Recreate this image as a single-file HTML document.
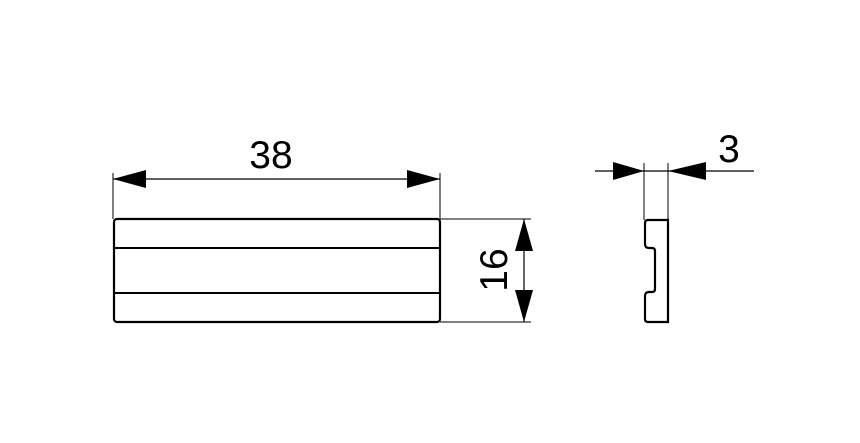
<!DOCTYPE html>
<html><head><style>body{margin:0;background:#fff}svg{display:block}</style></head><body>
<svg width="860" height="443" viewBox="0 0 860 443" xmlns="http://www.w3.org/2000/svg">
<g fill="none" stroke="#000">
<rect x="114" y="219" width="326" height="103" rx="3" stroke-width="2.2"/>
<line x1="114" y1="248" x2="440" y2="248" stroke-width="2"/>
<line x1="114" y1="293" x2="440" y2="293" stroke-width="2"/>
<line x1="113" y1="173" x2="113" y2="219" stroke-width="1"/>
<line x1="440" y1="173" x2="440" y2="219" stroke-width="1"/>
<line x1="113" y1="179" x2="440" y2="179" stroke-width="1.2"/>
<line x1="440" y1="219" x2="531" y2="219" stroke-width="1"/>
<line x1="440" y1="322" x2="531" y2="322" stroke-width="1"/>
<line x1="524" y1="219" x2="524" y2="322" stroke-width="1.2"/>
<line x1="644" y1="163" x2="644" y2="220" stroke-width="1"/>
<line x1="668" y1="163" x2="668" y2="220" stroke-width="1"/>
<line x1="595" y1="171" x2="754" y2="171" stroke-width="1.2"/>
<path d="M648 220 H668 V322 H648 Q645 322 645 319 V296 Q645 292 649 292 H652 Q655 292 655 289 V251 Q655 248 652 248 H649 Q645 248 645 244 V223 Q645 220 648 220 Z" stroke-width="2.2"/>
</g>
<g fill="#000">
<polygon points="113,179 146,170 146,188"/>
<polygon points="440,179 407,170 407,188"/>
<polygon points="524,219 515,251 533,251"/>
<polygon points="524,322 515,290 533,290"/>
<polygon points="644,171 613,162 613,180"/>
<polygon points="668,171 706,162 706,180"/>
</g>
<g font-family="Liberation Sans, sans-serif" font-size="39" fill="#000">
<text x="271" y="168" text-anchor="middle">38</text>
<text x="729" y="162" text-anchor="middle">3</text>
<text transform="translate(507,270) rotate(-90)" text-anchor="middle">16</text>
</g>
</svg>
</body></html>
